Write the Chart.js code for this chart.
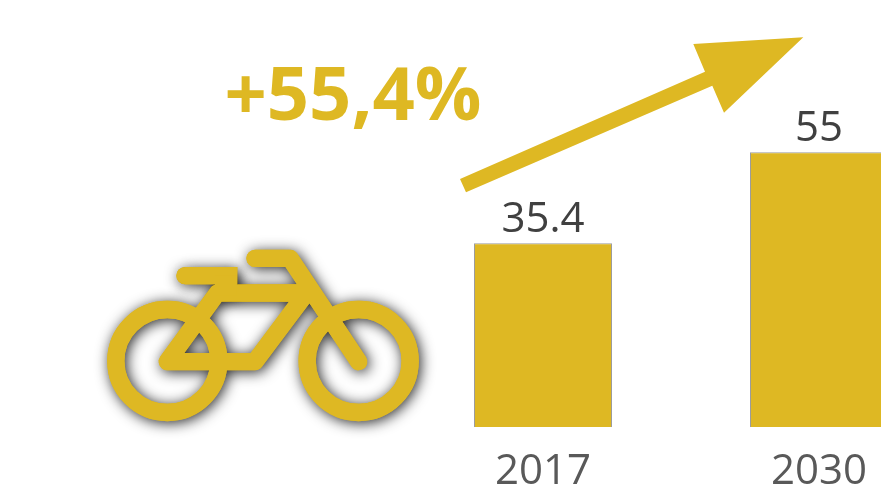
<!DOCTYPE html>
<html>
<head>
<meta charset="utf-8">
<style>
html,body{margin:0;padding:0;background:#fff;overflow:hidden}
#wrap{width:881px;height:493px;overflow:hidden;position:relative}
canvas{display:block}
</style>
<script src="https://cdn.jsdelivr.net/npm/chart.js@4"></script>
</head>
<body>
<div id="wrap"><canvas id="c" width="1000" height="493" style="width:1000px;height:493px"></canvas></div>
<script>
const categories = ['2017', '2030'];
const values = [35.4, 55];
const valueLabels = ['35.4', '55'];
const growthLabel = '+55,4%';
const axisMin = -4.2;
const axisMax = 60;

const GOLD = '#DEB823';
const FONT = '"Open Sans", Lato, sans-serif';

function bikePath(ctx, ox, oy) {
  const x = v => ox + v / 3, y = v => oy + v / 3;
  const r = 51.5;
  ctx.beginPath();
  ctx.moveTo(x(232) + r, y(378)); ctx.arc(x(232), y(378), r, 0, Math.PI * 2);
  ctx.moveTo(x(806) + r, y(378)); ctx.arc(x(806), y(378), r, 0, Math.PI * 2);
  // frame
  ctx.moveTo(x(649), y(174));
  ctx.lineTo(x(382), y(174));
  ctx.lineTo(x(232), y(380));
  ctx.lineTo(x(495), y(380));
  ctx.lineTo(x(649), y(174));
  // handlebar and fork
  ctx.moveTo(x(495), y(70));
  ctx.lineTo(x(600), y(70));
  ctx.lineTo(x(806), y(380));
}
function seatCap(ctx, ox, oy) {
  ctx.beginPath();
  ctx.arc(ox + 285 / 3, oy + 122 / 3, 8.7, Math.PI / 2, Math.PI * 1.5);
  ctx.fill();
  ctx.fillRect(ox + 285 / 3, oy + 96 / 3, 157 / 3, 52 / 3);
  ctx.fillRect(ox + 375 / 3, oy + 122 / 3, 65 / 3, 60 / 3);
}
const decorations = {
  id: 'decorations',
  afterDatasetsDraw(chart) {
    const ctx = chart.ctx;
    ctx.save();
    // value labels
    const meta = chart.getDatasetMeta(0);
    ctx.fillStyle = '#404040';
    ctx.font = '42px ' + FONT;
    ctx.textAlign = 'center';
    ctx.textBaseline = 'alphabetic';
    meta.data.forEach((el, i) => ctx.fillText(valueLabels[i], el.x, el.y - 11.5));

    // growth label
    ctx.fillStyle = GOLD;
    ctx.font = 'bold 74px ' + FONT;
    ctx.textAlign = 'center';
    ctx.fillText(growthLabel, 353, 120);

    // arrow
    ctx.beginPath();
    [[460,179],[466,192.3],[712.3,85.7],[724,112.7],[803.3,37.3],[693.3,44],[705,71.7]]
      .forEach((p, i) => i ? ctx.lineTo(p[0], p[1]) : ctx.moveTo(p[0], p[1]));
    ctx.closePath();
    ctx.fill();

    // bicycle
    const ox = 90, oy = 235;
    ctx.strokeStyle = GOLD;
    ctx.lineWidth = 17.3;
    ctx.lineCap = 'round';
    ctx.lineJoin = 'round';
    ctx.shadowColor = 'rgba(0,0,0,0.85)';
    ctx.shadowBlur = 14;
    ctx.shadowOffsetX = 2;
    ctx.shadowOffsetY = 2;
    bikePath(ctx, ox, oy); ctx.stroke();
    seatCap(ctx, ox, oy);
    ctx.shadowColor = 'transparent';
    ctx.shadowBlur = 0; ctx.shadowOffsetX = 0; ctx.shadowOffsetY = 0;
    bikePath(ctx, ox, oy); ctx.stroke();
    seatCap(ctx, ox, oy);
    ctx.restore();
  }
};

new Chart(document.getElementById('c'), {
  type: 'bar',
  data: {
    labels: categories,
    datasets: [{
      data: values,
      base: axisMin,
      backgroundColor: GOLD,
      borderColor: '#9c9c9c',
      borderWidth: 1,
      barPercentage: 0.5,
      categoryPercentage: 1
    }]
  },
  options: {
    responsive: false,
    animation: false,
    layout: { padding: { left: 405, right: 43, top: 129, bottom: 0 } },
    plugins: { legend: { display: false }, tooltip: { enabled: false } },
    scales: {
      x: {
        grid: { display: false, drawTicks: false },
        border: { display: false },
        ticks: { color: '#595959', font: { family: FONT, size: 42 }, padding: 20, maxRotation: 0 },
        afterFit(s) { s.height = 66; }
      },
      y: { display: false, min: axisMin, max: axisMax }
    }
  },
  plugins: [decorations]
});
</script>
</body>
</html>
